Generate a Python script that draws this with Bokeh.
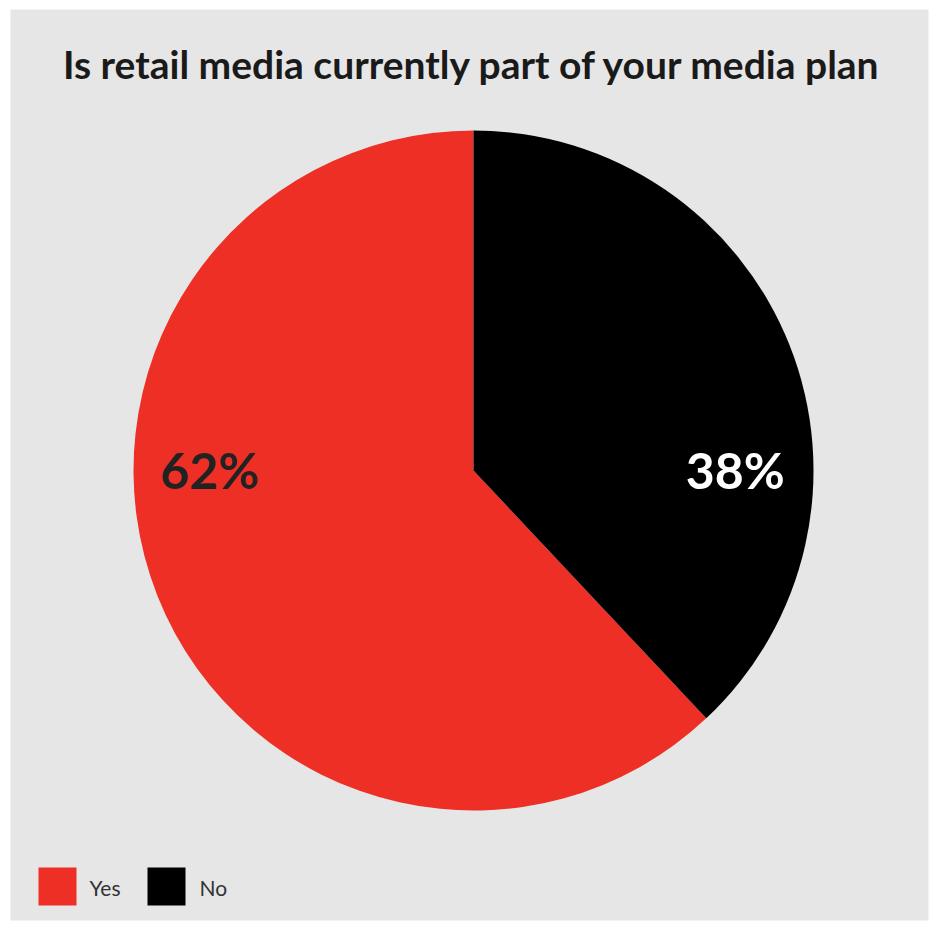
import math
from bokeh.plotting import figure
from bokeh.models import Range1d, ColumnDataSource
from bokeh.core.properties import value
from bokeh.embed import file_html
from bokeh.resources import INLINE

title_text = "Is retail media currently part of your media plan"
categories = ["Yes", "No"]
shares = [62, 38]
labels = ["62%", "38%"]
colors = ["#ee2f25", "#000000"]
label_colors = ["#222222", "#ffffff"]

W, H = 936, 924
# data coords: x_data = screen_x, y_data = 926 - screen_y
p = figure(width=W, height=H, output_backend="svg", toolbar_location=None,
           x_range=Range1d(0, W), y_range=Range1d(926 - H, 926),
           min_border=0)
p.axis.visible = False
p.grid.visible = False
p.outline_line_color = None
p.background_fill_color = "#ffffff"
p.border_fill_color = "#ffffff"

# gray panel
p.rect(x=[(10 + 928) / 2], y=[926 - (9 + 920) / 2], width=[918], height=[911],
       fill_color="#e6e6e6", line_color=None)

cx, cy, r = 473, 926 - 470, 340
total = sum(shares)
# slices go clockwise from 12 o'clock; No first (right side), Yes after
start = math.pi / 2
starts, ends = {}, {}
for cat, s in zip(reversed(categories), reversed(shares)):
    end = start
    start = end - 2 * math.pi * s / total
    starts[cat], ends[cat] = start, end
src = ColumnDataSource(dict(
    x=[cx] * len(categories), y=[cy] * len(categories),
    start=[starts[c] for c in categories], end=[ends[c] for c in categories],
    color=colors))
p.wedge(x="x", y="y", radius=r, start_angle="start", end_angle="end",
        fill_color="color", line_color=None, source=src)

# percentage labels
lab_x = [cx - 0.775 * r, cx + 0.77 * r]
p.text(x=lab_x, y=[cy + 1, cy + 1], text=labels, text_color=label_colors,
       text_font=value("Lato"), text_font_style="bold", text_font_size="50px",
       text_align="center", text_baseline="middle")

# title
p.text(x=[472], y=[926 - 63], text=[title_text], text_color="#1a1a1a",
       text_font=value("Lato"), text_font_style="bold", text_font_size="39px",
       text_align="center", text_baseline="middle")

# legend
sq_x = [57, 166]
txt_x = [89, 199]
p.rect(x=sq_x, y=[926 - 886] * 2, width=38, height=38, fill_color=colors, line_color=None)
p.text(x=txt_x, y=[926 - 887] * 2, text=categories, text_color="#333333",
       text_font=value("Lato"), text_font_size="21px", text_baseline="middle")

open("out.html", "w").write(file_html(p, INLINE))
